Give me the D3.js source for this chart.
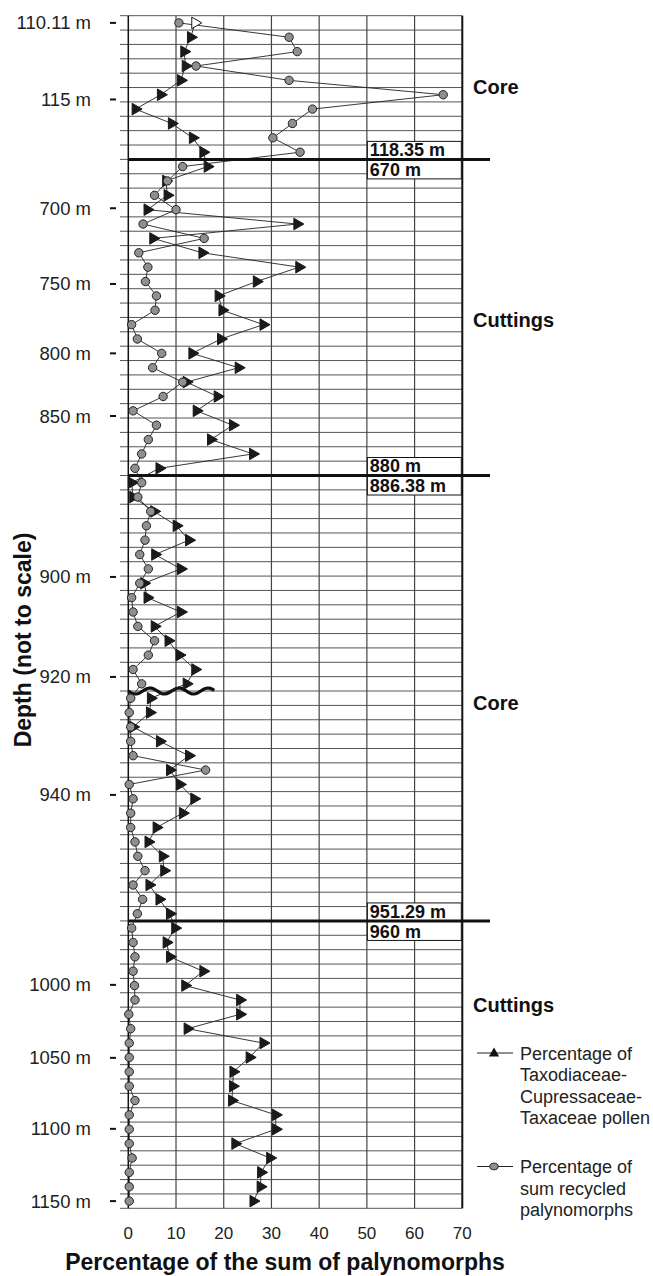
<!DOCTYPE html>
<html>
<head>
<meta charset="utf-8">
<script src="https://cdn.jsdelivr.net/npm/d3@7"></script>
<style>
  body { margin: 0; background: #fff; }
  svg { display: block; font-family: "Liberation Sans", Arial, sans-serif; }
</style>
</head>
<body>
<div id="chart"></div>
<script>
// one value per sample row, top to bottom (83 rows)
var taxodiaceae = [14.0, 13.1, 11.7, 12.0, 11.0, 6.8, 1.5, 9.1, 13.5, 15.7,
    16.6, 7.9, 8.2, 4.0, 35.4, 5.2, 15.5, 35.8, 26.9, 18.9,
    19.7, 28.3, 19.4, 13.4, 23.1, 12.2, 18.7, 14.3, 21.9, 17.3,
    26.1, 6.5, 0.7, 1.0, 5.4, 10.1, 12.7, 5.6, 11.0, 3.3,
    4.0, 11.0, 5.5, 8.4, 10.7, 14.0, 12.2, 4.7, 4.5, 1.0,
    6.6, 12.7, 8.7, 10.8, 13.8, 11.4, 5.9, 4.2, 7.2, 7.5,
    4.4, 6.5, 8.7, 9.8, 8.0, 8.7, 15.7, 11.9, 23.4, 23.4,
    12.4, 28.3, 25.4, 22.0, 21.9, 21.7, 30.9, 30.9, 22.4, 29.7,
    27.8, 27.7, 26.2];
var recycled = [10.6, 33.7, 35.4, 14.2, 33.7, 66.0, 38.6, 34.4, 30.3, 36.0,
    11.4, 8.2, 5.5, 10.0, 3.1, 15.9, 2.2, 4.1, 3.6, 5.9,
    5.6, 0.7, 1.9, 7.0, 5.1, 11.4, 7.3, 1.0, 5.9, 4.2,
    2.8, 1.4, 2.8, 2.0, 4.7, 3.8, 3.5, 2.4, 4.2, 2.4,
    0.7, 1.0, 2.0, 5.5, 4.2, 1.0, 2.8, 0.5, 0.2, 0.5,
    0.5, 1.0, 16.2, 0.2, 1.0, 0.5, 0.5, 1.4, 2.0, 3.5,
    1.0, 3.0, 1.9, 0.7, 1.0, 1.4, 1.0, 1.3, 1.4, 0.1,
    0.5, 0.2, 0.2, 0.2, 0.2, 1.4, 0.2, 0.2, 0.2, 0.8,
    0.2, 0.2, 0.2];

// depth labels (not to scale) and the row position they sit at
var depthLabels = ["110.11 m", "115 m", "700 m", "750 m", "800 m", "850 m", "900 m",
    "920 m", "940 m", "1000 m", "1050 m", "1100 m", "1150 m"];
var depthLabelRows = [0, 5.33, 12.9, 18.17, 23, 27.36, 38.56, 45.52, 53.73, 66.95, 72.03, 76.97, 82];

var xTicks = [0, 10, 20, 30, 40, 50, 60, 70];

// core / cuttings boundaries
var boundaryRows = [10, 32, 63];
var boundaryAbove = ["118.35 m", "880 m", "951.29 m"];
var boundaryBelow = ["670 m", "886.38 m", "960 m"];
var unconformityRow = 47;

var sectionLabels = ["Core", "Cuttings", "Core", "Cuttings"];
var sectionRows = [4.44, 20.67, 47.33, 68.34];

var legendLines = [
    ["Percentage of", "Taxodiaceae-", "Cupressaceae-", "Taxaceae pollen"],
    ["Percentage of", "sum recycled", "palynomorphs"]
];

var width = 653, height = 1276;
var nRows = taxodiaceae.length;

var x = d3.scaleLinear().domain([0, 70]).range([128.3, 462.3]);
var y = d3.scaleLinear().domain([0, nRows]).range([15.7, 1208.3]);
var rowY = function(i) { return y(i + 0.5); };

var svg = d3.select("#chart").append("svg")
    .attr("width", width)
    .attr("height", height);

// horizontal row lines
svg.append("g").selectAll("line")
    .data(d3.range(nRows + 1))
    .enter().append("line")
    .attr("x1", 120).attr("x2", x(70))
    .attr("y1", function(d) { return y(d); })
    .attr("y2", function(d) { return y(d); })
    .attr("stroke", "#555")
    .attr("stroke-width", 1);

// vertical grid
svg.append("g").selectAll("line")
    .data(xTicks)
    .enter().append("line")
    .attr("x1", function(d) { return x(d); })
    .attr("x2", function(d) { return x(d); })
    .attr("y1", y(0)).attr("y2", y(nRows))
    .attr("stroke", function(d) { return d == 0 || d == 70 ? "#111" : "#444"; })
    .attr("stroke-width", function(d) { return d == 0 ? 1.5 : (d == 70 ? 2 : 1.2); });

// x tick labels
svg.append("g").selectAll("text")
    .data(xTicks)
    .enter().append("text")
    .attr("x", function(d) { return x(d); })
    .attr("y", y(nRows) + 31)
    .attr("text-anchor", "middle")
    .attr("font-size", 17)
    .attr("fill", "#222")
    .text(function(d) { return d; });

// depth labels and their dashes
var dl = svg.append("g");
dl.selectAll("text")
    .data(depthLabels)
    .enter().append("text")
    .attr("x", 91)
    .attr("y", function(d, i) { return y(depthLabelRows[i] + 0.5) + 6.5; })
    .attr("text-anchor", "end")
    .attr("font-size", 18.5)
    .attr("fill", "#222")
    .text(function(d) { return d; });
dl.selectAll("line")
    .data(depthLabels)
    .enter().append("line")
    .attr("x1", 110).attr("x2", 116)
    .attr("y1", function(d, i) { return y(depthLabelRows[i] + 0.5); })
    .attr("y2", function(d, i) { return y(depthLabelRows[i] + 0.5); })
    .attr("stroke", "#111")
    .attr("stroke-width", 2);

// unconformity (wavy line)
var wave = d3.range(0, 87, 1).map(function(t) {
    return [x(0) + t, y(unconformityRow) + 3 * Math.sin(t / 29 * 2 * Math.PI)];
});
svg.append("path")
    .attr("d", d3.line().curve(d3.curveBasis)(wave))
    .attr("fill", "none")
    .attr("stroke", "#111")
    .attr("stroke-width", 3.2);

// series lines
var lineTax = d3.line()
    .x(function(d) { return x(d); })
    .y(function(d, i) { return rowY(i); });
svg.append("path")
    .attr("d", lineTax(recycled))
    .attr("fill", "none")
    .attr("stroke", "#222")
    .attr("stroke-width", 0.9);
svg.append("path")
    .attr("d", lineTax(taxodiaceae))
    .attr("fill", "none")
    .attr("stroke", "#222")
    .attr("stroke-width", 0.9);

// boundary lines with boxed labels
var bd = svg.append("g").selectAll("g")
    .data(boundaryRows)
    .enter().append("g");
bd.append("rect")
    .attr("x", x(50) + 0.5)
    .attr("y", function(d) { return y(d) - 18; })
    .attr("width", x(70) - x(50) - 1.5)
    .attr("height", 37.5)
    .attr("fill", "#fff")
    .attr("stroke", "#111")
    .attr("stroke-width", 1);
bd.append("line")
    .attr("x1", x(0)).attr("x2", 490)
    .attr("y1", function(d) { return y(d); })
    .attr("y2", function(d) { return y(d); })
    .attr("stroke", "#111")
    .attr("stroke-width", 3);
bd.append("text")
    .attr("x", x(50) + 3)
    .attr("y", function(d) { return y(d) - 3; })
    .attr("font-size", 18)
    .attr("font-weight", "bold")
    .attr("fill", "#111")
    .text(function(d, i) { return boundaryAbove[i]; });
bd.append("text")
    .attr("x", x(50) + 3)
    .attr("y", function(d) { return y(d) + 17; })
    .attr("font-size", 18)
    .attr("font-weight", "bold")
    .attr("fill", "#111")
    .text(function(d, i) { return boundaryBelow[i]; });

// markers
var tri = d3.symbol().type(d3.symbolTriangle).size(58);
svg.append("g").selectAll("path")
    .data(taxodiaceae)
    .enter().append("path")
    .attr("d", tri)
    .attr("transform", function(d, i) { return "translate(" + x(d) + "," + rowY(i) + ") rotate(90)"; })
    .attr("fill", function(d, i) { return i == 0 ? "#fff" : "#1a1a1a"; })
    .attr("stroke", "#1a1a1a")
    .attr("stroke-width", 1);

svg.append("g").selectAll("circle")
    .data(recycled)
    .enter().append("circle")
    .attr("cx", function(d) { return x(d); })
    .attr("cy", function(d, i) { return rowY(i); })
    .attr("r", 4.2)
    .attr("fill", "#8f8f8f")
    .attr("stroke", "#222")
    .attr("stroke-width", 1);

// Core / Cuttings labels
svg.append("g").selectAll("text")
    .data(sectionLabels)
    .enter().append("text")
    .attr("x", 473)
    .attr("y", function(d, i) { return y(sectionRows[i] + 0.5) + 7; })
    .attr("font-size", 20)
    .attr("font-weight", "bold")
    .attr("fill", "#111")
    .text(function(d) { return d; });

// legend
var legendTop = [1053, 1166.5];
var lg = svg.append("g").selectAll("g")
    .data(legendLines)
    .enter().append("g");
lg.append("line")
    .attr("x1", 477).attr("x2", 513)
    .attr("y1", function(d, i) { return legendTop[i]; })
    .attr("y2", function(d, i) { return legendTop[i]; })
    .attr("stroke", "#222")
    .attr("stroke-width", 1);
lg.each(function(d, i) {
    var g = d3.select(this);
    if (i == 0) {
        g.append("path")
            .attr("d", d3.symbol().type(d3.symbolTriangle).size(45))
            .attr("transform", "translate(494," + (legendTop[i] + 0.5) + ")")
            .attr("fill", "#111");
    } else {
        g.append("ellipse")
            .attr("cx", 494).attr("cy", legendTop[i])
            .attr("rx", 4.2).attr("ry", 3.3)
            .attr("fill", "#8f8f8f")
            .attr("stroke", "#222");
    }
    g.selectAll("text")
        .data(d)
        .enter().append("text")
        .attr("x", 520)
        .attr("y", function(t, j) { return legendTop[i] + 6.5 + j * 21.5; })
        .attr("font-size", 18)
        .attr("fill", "#222")
        .text(function(t) { return t; });
});

// axis titles
svg.append("text")
    .attr("x", 285)
    .attr("y", 1270)
    .attr("text-anchor", "middle")
    .attr("font-size", 23)
    .attr("font-weight", "bold")
    .attr("fill", "#111")
    .text("Percentage of the sum of palynomorphs");

svg.append("text")
    .attr("transform", "translate(31,640) rotate(-90)")
    .attr("text-anchor", "middle")
    .attr("font-size", 23)
    .attr("font-weight", "bold")
    .attr("fill", "#111")
    .text("Depth (not to scale)");
</script>
</body>
</html>
